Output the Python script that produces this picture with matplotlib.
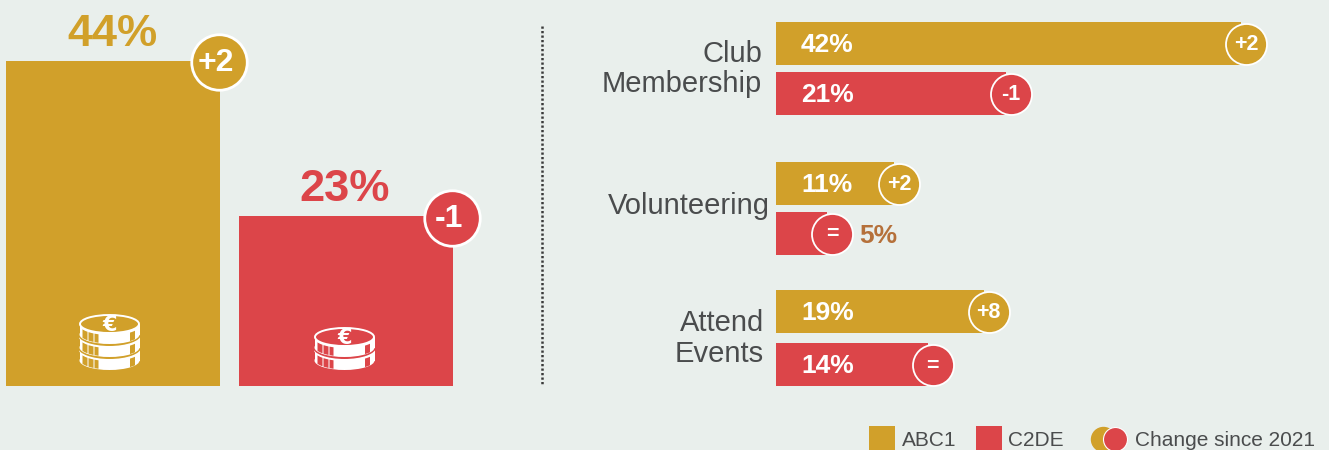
import numpy as np
import matplotlib
matplotlib.use("Agg")
import matplotlib.pyplot as plt
from matplotlib.patches import Ellipse, Rectangle

plt.rcParams['font.family'] = ['Liberation Sans', 'DejaVu Sans']

W, H = 1329, 450
BG = '#E9EFEC'
GOLD = '#D1A02A'
RED = '#DC4549'
BROWN = '#B5703A'
GREY = '#4A4C4D'
WHITE = 'white'

# left panel
left_values = [44, 23]
left_changes = ['+2', '-1']
left_coins = [3, 2]

# right panel
activities = ['Club\nMembership', 'Volunteering', 'Attend\nEvents']
abc1_values = [42, 11, 19]
c2de_values = [21, 5, 14]
abc1_changes = ['+2', '+2', '+8']
c2de_changes = ['-1', '=', '=']

legend_labels = ['ABC1', 'C2DE', 'Change since 2021']


def px_axes(fig, x0, x1, y_top, y_bottom):
    # axes placed with pixel positions, y measured from top of the image
    return fig.add_axes([x0 / W, 1 - y_bottom / H, (x1 - x0) / W, (y_bottom - y_top) / H])


def diam(px):
    return (px * 72 / 100) ** 2


def coin_stack(ax, cx, bottom, n, color):
    w = 60
    eh = 19
    thick = 13
    body = 10.5
    blocks = [(-27.5, -22.5), (-21.5, -16.5), (-15.5, -11.5), (20, 25)]
    for i in range(n):
        yb = bottom - i * thick
        low_c = yb - eh / 2
        top_c = low_c - body
        # gap to the coin below
        ax.add_patch(Ellipse((cx, low_c), w + 3, eh + 4, fc=color, ec='none', zorder=5 + i))
        ax.add_patch(Ellipse((cx, low_c), w, eh, fc=WHITE, ec='none', zorder=5 + i))
        ax.add_patch(Rectangle((cx - w / 2, top_c), w, body, fc=WHITE, ec='none', zorder=5 + i))
        for d0, d1 in blocks:
            xs = np.linspace(d0, d1, 8)
            h = np.sqrt(1 - (xs / (w / 2)) ** 2) * eh / 2
            ax.fill_between(cx + xs, top_c + h + 1, low_c + h - 1, color=color, lw=0, zorder=5 + i)
        ax.add_patch(Ellipse((cx, top_c), w - 1, eh - 1, fc=color, ec=WHITE, lw=1.4, zorder=5 + i))
    ax.text(cx, top_c + 1, '€', color=WHITE, fontsize=15, fontweight='bold', family='DejaVu Sans',
            ha='center', va='center', zorder=20)


fig = plt.figure(figsize=(W / 100, H / 100), dpi=100, facecolor=BG)

# left bars
ax_l = px_axes(fig, 6, 453, 0, 386)
ax_l.set_xlim(0, 447)
ax_l.set_ylim(0, 386 / 7.39)
ax_l.axis('off')
left_x = [107, 340]
left_colors = [GOLD, RED]
ax_l.bar(left_x, left_values, width=214, color=left_colors, zorder=1)
for x, v, c, col in zip(left_x, left_values, left_changes, left_colors):
    ax_l.text(x - 1, v + 0.75, f'{v}%', color=col, fontsize=32.5, fontweight='bold', ha='center', va='bottom')
    ax_l.scatter([x + 106], [v - 0.2], s=diam(55.5), color=col, edgecolor=WHITE, linewidth=2, zorder=3, clip_on=False)
    ax_l.text(x + 103, v - 0.35, c, color=WHITE, fontsize=23, fontweight='bold', ha='center', va='center', zorder=4)

# right bars
BAR_TRIM = 0.45
ax_r = px_axes(fig, 776, 1329, 0, 450)
ax_r.set_xlim(0, 553 / 11.2)
ax_r.set_ylim(450, 0)
ax_r.axis('off')
abc1_y = [43.5, 183.5, 311.5]
c2de_y = [93.5, 233.5, 364.5]
label_x = [762, 770, 764]
label_y = [69, 206, 338.5]
for vals, chg, ys, col in [(abc1_values, abc1_changes, abc1_y, GOLD), (c2de_values, c2de_changes, c2de_y, RED)]:
    ax_r.barh(ys, [v - BAR_TRIM for v in vals], height=43, color=col, zorder=1)
    for v, c, y in zip(vals, chg, ys):
        ax_r.scatter([v], [y], s=diam(41), color=col, edgecolor=WHITE, linewidth=1.3, zorder=3, clip_on=False)
        ax_r.text(v, y + 1.5, c, color=WHITE, fontsize=15.5, fontweight='bold', ha='center', va='center', zorder=4)
        if v > 5:
            ax_r.text(25 / 11.2, y + 1.5, f'{v}%', color=WHITE, fontsize=19, fontweight='bold', ha='left', va='center', zorder=4)
        else:
            ax_r.text(v + 27 / 11.2, y + 2.5, f'{v}%', color=BROWN, fontsize=19, fontweight='bold', ha='left', va='center', zorder=4)

# overlay in image pixels: divider, labels, coins, legend
ov = fig.add_axes([0, 0, 1, 1], facecolor='none')
ov.set_xlim(0, W)
ov.set_ylim(H, 0)
ov.axis('off')
ov.plot([541.5, 541.5], [26, 386], color='#3A3A3A', lw=1.8, linestyle=(0, (0.9, 0.9)))
for name, x, y in zip(activities, label_x, label_y):
    ov.text(x, y, name, color=GREY, fontsize=21, ha='right', va='center', multialignment='right', linespacing=1.1)

coin_stack(ov, 109.5, 370, left_coins[0], GOLD)
coin_stack(ov, 344.5, 370, left_coins[1], RED)

ov.add_patch(Rectangle((869, 426), 26, 24, fc=GOLD, ec='none'))
ov.text(902, 441, legend_labels[0], color=GREY, fontsize=15, ha='left', va='center')
ov.add_patch(Rectangle((976, 426), 26, 24, fc=RED, ec='none'))
ov.text(1008, 441, legend_labels[1], color=GREY, fontsize=15, ha='left', va='center')
ov.scatter([1103], [439], s=diam(24), color=GOLD, zorder=3)
ov.scatter([1115], [439], s=diam(24), color=RED, edgecolor=WHITE, linewidth=0.8, zorder=4)
ov.text(1135, 441, legend_labels[2], color=GREY, fontsize=15, ha='left', va='center')

fig.savefig('out.png', dpi=100, facecolor=BG)
